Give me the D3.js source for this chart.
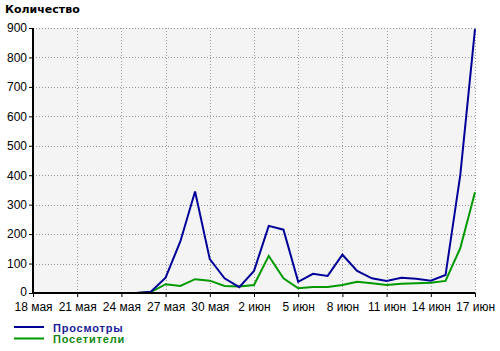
<!DOCTYPE html>
<html>
<head>
<meta charset="utf-8">
<script src="https://cdn.jsdelivr.net/npm/d3@7"></script>
<style>
  body { margin: 0; background: #fff; }
  text { font-family: "Liberation Sans", Arial, sans-serif; }
</style>
</head>
<body>
<div id="chart"></div>
<script>
// days from 18 May to 17 June
var dayLabels = ['18 мая', '19 мая', '20 мая', '21 мая', '22 мая', '23 мая', '24 мая', '25 мая',
    '26 мая', '27 мая', '28 мая', '29 мая', '30 мая', '31 мая', '1 июн', '2 июн', '3 июн',
    '4 июн', '5 июн', '6 июн', '7 июн', '8 июн', '9 июн', '10 июн', '11 июн', '12 июн',
    '13 июн', '14 июн', '15 июн', '16 июн', '17 июн'];

var views = [0, 0, 0, 0, 0, 0, 0, 0, 4, 52, 175, 345, 115, 50, 20, 75, 228, 215, 38,
    65, 58, 130, 75, 50, 41, 52, 48, 42, 61, 400, 896];

var visitors = [0, 0, 0, 0, 0, 0, 0, 0, 3, 30, 24, 47, 42, 24, 22, 27, 126, 50, 16,
    20, 20, 27, 38, 33, 27, 31, 33, 35, 41, 152, 342];

var yTicks = [0, 100, 200, 300, 400, 500, 600, 700, 800, 900];

var width = 500,
    height = 351,
    mLeft = 33, mRight = 475, mTop = 28, mBottom = 293;

var svg = d3.select('#chart').append('svg')
    .attr('width', width)
    .attr('height', height);

var xScale = d3.scalePoint()
    .domain(dayLabels)
    .range([mLeft, mRight]);

var yScale = d3.scaleLinear()
    .domain([0, 900])
    .range([mBottom, mTop]);

// plot background
svg.append('rect')
    .attr('x', mLeft).attr('y', mTop)
    .attr('width', mRight - mLeft).attr('height', mBottom - mTop)
    .attr('fill', '#f4f4f4');

var xTickLabels = dayLabels.filter((d, i) => i % 3 == 0);

// grid
svg.append('g').selectAll('line')
    .data(yTicks.slice(1))
    .enter().append('line')
    .attr('x1', mLeft).attr('x2', mRight)
    .attr('y1', d => Math.round(yScale(d)) + 0.5).attr('y2', d => Math.round(yScale(d)) + 0.5)
    .attr('stroke', '#999')
    .attr('stroke-dasharray', '1,2');

svg.append('g').selectAll('line')
    .data(xTickLabels.slice(1))
    .enter().append('line')
    .attr('x1', d => Math.round(xScale(d)) + 0.5).attr('x2', d => Math.round(xScale(d)) + 0.5)
    .attr('y1', mTop).attr('y2', mBottom)
    .attr('stroke', '#999')
    .attr('stroke-dasharray', '1,2');

// lines
var line = d3.line()
    .x((d, i) => xScale(dayLabels[i]))
    .y(d => yScale(d));

svg.append('path')
    .datum(visitors)
    .attr('d', line)
    .attr('fill', 'none')
    .attr('stroke', '#009900')
    .attr('stroke-width', 2);

svg.append('path')
    .datum(views)
    .attr('d', line)
    .attr('fill', 'none')
    .attr('stroke', '#000099')
    .attr('stroke-width', 2);

// axes
var yAxis = d3.axisLeft(yScale)
    .tickValues(yTicks)
    .tickSize(4)
    .tickPadding(2);

var xAxis = d3.axisBottom(xScale)
    .tickValues(xTickLabels)
    .tickSize(4)
    .tickPadding(5);

var gy = svg.append('g')
    .attr('transform', 'translate(' + mLeft + ',0)')
    .call(yAxis);

var gx = svg.append('g')
    .attr('transform', 'translate(0,' + mBottom + ')')
    .call(xAxis);

[gx, gy].forEach(g => {
    g.select('.domain').attr('stroke', '#000').attr('stroke-width', 2);
    g.selectAll('.tick line').attr('stroke', '#000');
    g.selectAll('.tick text')
        .attr('fill', '#000')
        .style('font-size', '12px');
});

gy.select('.domain').attr('d', 'M0,' + mBottom + 'V' + mTop);
gx.select('.domain').attr('d', 'M' + mLeft + ',0H' + mRight);
// lift the zero label a little so it clears the date below
gy.selectAll('.tick').filter(d => d == 0).select('text').attr('dy', '0.2em');

// title
svg.append('text')
    .attr('x', 5).attr('y', 13)
    .style('font-family', '"DejaVu Sans", Verdana, sans-serif')
    .style('font-size', '11px')
    .style('font-weight', 'bold')
    .text('Количество');

// legend
var legend = [
    { name: 'Просмотры', color: '#000099', text: '#1a1a99' },
    { name: 'Посетители', color: '#009900', text: '#118811' }
];

var lg = svg.append('g').selectAll('g')
    .data(legend)
    .enter().append('g')
    .attr('transform', (d, i) => 'translate(0,' + (327 + i * 11.5) + ')');

lg.append('line')
    .attr('x1', 14).attr('x2', 44)
    .attr('y1', 0).attr('y2', 0)
    .attr('stroke', d => d.color)
    .attr('stroke-width', 2);

lg.append('text')
    .attr('x', 53).attr('y', 4.5)
    .style('font-family', '"Liberation Sans", Arial, sans-serif')
    .style('font-size', '11px')
    .style('font-weight', 'bold')
    .style('letter-spacing', '0.8px')
    .attr('fill', d => d.text)
    .text(d => d.name);
</script>
</body>
</html>
